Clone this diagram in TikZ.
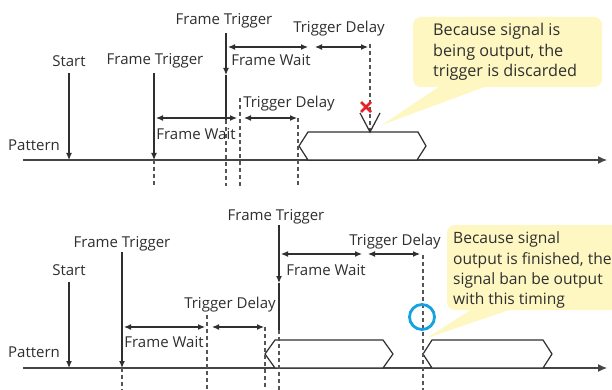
\documentclass[tikz,border=0pt]{standalone}
\usepackage{fontspec}
\setmainfont{Open Sans}
\usetikzlibrary{arrows.meta,calc}
\definecolor{ln}{HTML}{2F2F2F}
\definecolor{dsh}{HTML}{555555}
\definecolor{callout}{HTML}{FFF7C2}
\definecolor{xred}{HTML}{E8202A}
\definecolor{okblue}{HTML}{14A3E0}
\tikzset{
  lbl/.style={inner sep=0pt, anchor=base, font=\fontsize{15}{17}\selectfont, text=ln},
  ctext/.style={inner sep=0pt, anchor=base west, align=left, font=\fontsize{16.2}{20.5}\selectfont, text=ln},
  ctextb/.style={ctext, font=\fontsize{15.6}{20}\selectfont},
  solidln/.style={draw=ln, line width=1.2pt},
  dashln/.style={draw=dsh, line width=1.1pt, dash pattern=on 4pt off 3pt},
  tip/.style={-{Latex[length=7pt,width=6pt]}},
  dbl/.style={{Latex[length=7pt,width=6pt]}-{Latex[length=7pt,width=6pt]}, draw=ln, line width=1.2pt},
  axis/.style={draw=dsh!80!black, line width=1.2pt, -{Latex[length=9pt,width=8pt]}},
  pulse/.style={draw=ln, line width=1.2pt, fill=white, line join=miter},
  bubble/.style={fill=callout, draw=none}
}
\begin{document}
\begin{tikzpicture}[x=1pt,y=-1pt]
\useasboundingbox (0,0) rectangle (612,390);
\clip (0,0) rectangle (612,390);
\fill[white] (0,0) rectangle (612,390);

% ================= TOP DIAGRAM =================
% callout
\coordinate (tTip) at (382,125);
\fill[bubble, rounded corners=8pt] (413,17) rectangle (602,87);
\fill[bubble] (440,86) -- (tTip) -- (487,86) -- cycle;
\node[ctext] (tC1) at (433,36) {Because signal is};
\node[ctext] (tC2) at (433,57) {being output, the};
\node[ctext] (tC3) at (433,77) {trigger is discarded};

% axis
\coordinate (tA0) at (23,160);
\coordinate (tA1) at (607,160);
\draw[axis] (tA0) -- (tA1);
\node[lbl, anchor=base west] (tPat) at (8,150) {Pattern};

% pulse
\draw[pulse] (299,146) -- (308,132) -- (418,132) -- (426,146) -- (417,160) -- (308,160) -- cycle;

% Start
\node[lbl] (tStart) at (69,67) {Start};
\coordinate (tS0) at (69,73);
\coordinate (tS1) at (69,160);
\draw[solidln, tip] (tS0) -- (tS1);

% Frame Trigger 1
\node[lbl] (tFT1) at (155,65) {Frame Trigger};
\coordinate (tF0) at (154,73);
\coordinate (tF1) at (154,160);
\coordinate (tF2) at (154,186);
\draw[solidln, tip] (tF0) -- (tF1);
\draw[dashln] (tF1) -- (tF2);

% Frame Trigger 2
\node[lbl] (tFT2) at (224,25) {Frame Trigger};
\coordinate (tG0) at (226,33);
\coordinate (tG1) at (226,75);
\coordinate (tG2) at (226,120);
\coordinate (tG3) at (226,186);
\draw[solidln, tip] (tG0) -- (tG1);
\draw[solidln] (tG1) -- (tG2);
\draw[dashln] (tG2) -- (tG3);

% upper Frame Wait / Trigger Delay
\coordinate (tW0) at (228,47);
\coordinate (tW1) at (308,47);
\draw[dbl] (tW0) -- (tW1);
\node[lbl] (tFW2) at (271,66) {Frame Wait};
\coordinate (tD0) at (315,47);
\coordinate (tD1) at (368,47);
\draw[dbl] (tD0) -- (tD1);
\node[lbl] (tTD2) at (339,33) {Trigger Delay};
\coordinate (tE0) at (370,44);
\coordinate (tE1) at (370,132);
\draw[dashln] (tE0) -- (tE1);

% lower Frame Wait / Trigger Delay
\coordinate (tw0) at (156,118);
\coordinate (tw1) at (237,118);
\draw[dbl] (tw0) -- (tw1);
\node[lbl] (tFW1) at (196,140) {Frame Wait};
\coordinate (tH0) at (240,98);
\coordinate (tH1) at (240,186);
\draw[dashln] (tH0) -- (tH1);
\coordinate (td0) at (244,118);
\coordinate (td1) at (297,118);
\draw[dbl] (td0) -- (td1);
\node[lbl] (tTD1) at (289,108) {Trigger Delay};
\coordinate (tJ0) at (298,118);
\coordinate (tJ1) at (298,186);
\draw[dashln] (tJ0) -- (tJ1);

% V mark and red X
\coordinate (tV) at (370,132);
\draw[draw=ln, line width=1.2pt] (360,113) -- (tV) -- (380,113);
\coordinate (tX) at (366,107);
\draw[xred, line width=2.6pt] ($(tX)+(-5,-5)$) -- ($(tX)+(5,5)$);
\draw[xred, line width=2.6pt] ($(tX)+(-5,5)$) -- ($(tX)+(5,-5)$);

% ================= BOTTOM DIAGRAM =================
% callout
\coordinate (bTip) at (427,338);
\fill[bubble, rounded corners=8pt] (447,225) rectangle (630,310);
\fill[bubble] (472,309) -- (bTip) -- (512,309) -- cycle;
\node[ctextb] (bC1) at (453,243) {Because signal};
\node[ctextb] (bC2) at (453,264) {output is finished, the};
\node[ctextb] (bC3) at (453,284) {signal ban be output};
\node[ctextb] (bC4) at (453,304) {with this timing};

% axis
\coordinate (bA0) at (23,368);
\coordinate (bA1) at (607,368);
\draw[axis] (bA0) -- (bA1);
\node[lbl, anchor=base west] (bPat) at (8,357) {Pattern};

% pulses
\draw[pulse] (265,354) -- (275,340) -- (383,340) -- (393,354) -- (383,368) -- (275,368) -- cycle;
\draw[pulse] (423,354) -- (432,340) -- (543,340) -- (552,354) -- (543,368) -- (432,368) -- cycle;

% Start
\node[lbl] (bStart) at (69,275) {Start};
\coordinate (bS0) at (69,282);
\coordinate (bS1) at (69,368);
\draw[solidln, tip] (bS0) -- (bS1);

% Frame Trigger 1
\node[lbl] (bFT1) at (122,247) {Frame Trigger};
\coordinate (bF0) at (122,252);
\coordinate (bF1) at (122,368);
\coordinate (bF2) at (122,391);
\draw[solidln, tip] (bF0) -- (bF1);
\draw[dashln] (bF1) -- (bF2);

% lower Frame Wait / Trigger Delay
\coordinate (bw0) at (124,327);
\coordinate (bw1) at (205,327);
\draw[dbl] (bw0) -- (bw1);
\node[lbl] (bFW1) at (164,347) {Frame Wait};
\coordinate (bH0) at (207,315);
\coordinate (bH1) at (207,391);
\draw[dashln] (bH0) -- (bH1);
\coordinate (bd0) at (212,327);
\coordinate (bd1) at (264,327);
\draw[dbl] (bd0) -- (bd1);
\node[lbl] (bTD1) at (230,308) {Trigger Delay};
\coordinate (bJ0) at (265,327);
\coordinate (bJ1) at (265,391);
\draw[dashln] (bJ0) -- (bJ1);

% Frame Trigger 2
\node[lbl] (bFT2) at (276,220) {Frame Trigger};
\coordinate (bG0) at (279,225);
\coordinate (bG1) at (279,283);
\coordinate (bG2) at (279,330);
\coordinate (bG3) at (279,391);
\draw[solidln, tip] (bG0) -- (bG1);
\draw[solidln] (bG1) -- (bG2);
\draw[dashln] (bG2) -- (bG3);

% upper Frame Wait / Trigger Delay
\coordinate (bW0) at (281,254);
\coordinate (bW1) at (362,254);
\draw[dbl] (bW0) -- (bW1);
\node[lbl] (bFW2) at (326,275) {Frame Wait};
\coordinate (bD0) at (368,254);
\coordinate (bD1) at (420,254);
\draw[dbl] (bD0) -- (bD1);
\node[lbl] (bTD2) at (395,245) {Trigger Delay};
\coordinate (bE0) at (423,255);
\coordinate (bE1) at (423,391);
\draw[dashln] (bE0) -- (bE1);

% blue circle
\coordinate (bO) at (422,317);
\draw[okblue, line width=2.8pt] (bO) circle (12.5);
\end{tikzpicture}
\end{document}
